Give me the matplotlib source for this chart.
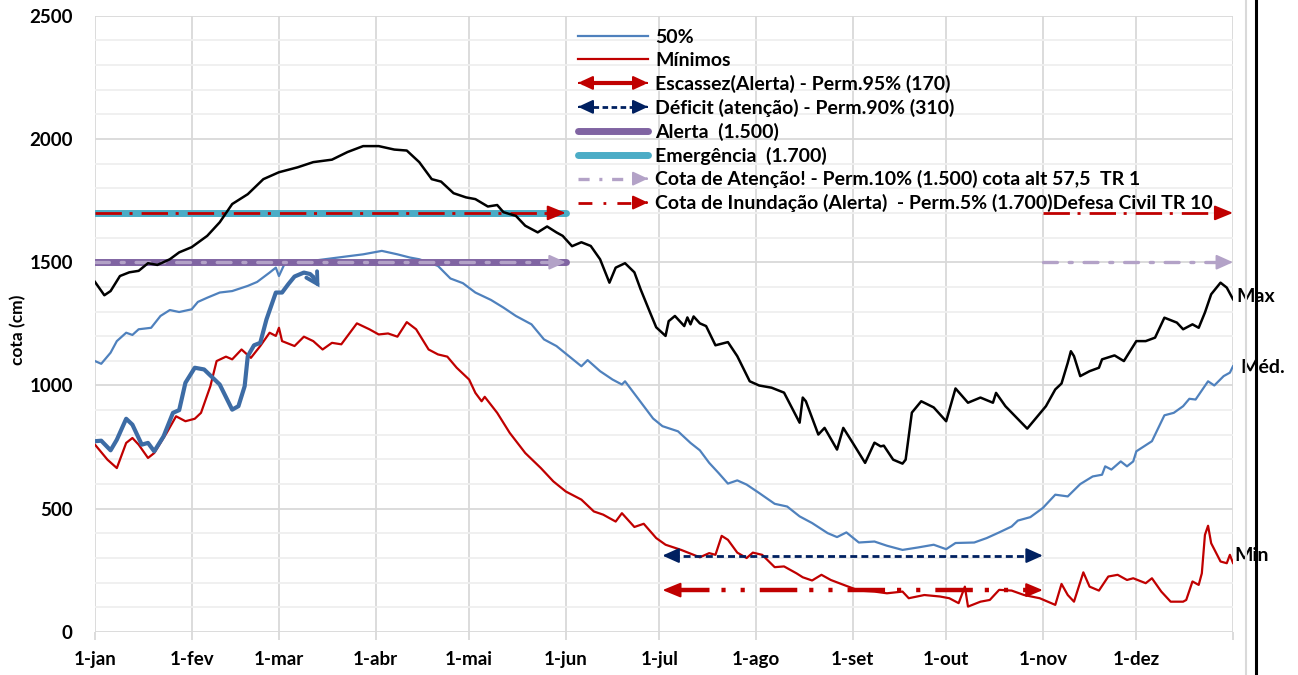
import matplotlib
matplotlib.use('Agg')
import matplotlib.pyplot as plt
from matplotlib.lines import Line2D
from matplotlib.patches import FancyArrowPatch
from matplotlib.legend_handler import HandlerBase
from matplotlib.ticker import MultipleLocator

plt.rcParams['font.family'] = ['Lato', 'DejaVu Sans']
plt.rcParams['font.weight'] = 'bold'
plt.rcParams['lines.scale_dashes'] = False

# ---------------- data ----------------
month_days = [0, 31, 59, 90, 120, 151, 181, 212, 243, 273, 304, 334]
month_labels = ['1-jan', '1-fev', '1-mar', '1-abr', '1-mai', '1-jun',
                '1-jul', '1-ago', '1-set', '1-out', '1-nov', '1-dez']
y_ticks = [0, 500, 1000, 1500, 2000, 2500]

max_day = [0, 3, 5, 8, 11, 14, 17, 20, 24, 27,
           31, 36, 40, 44, 49, 54, 59, 65, 70, 76,
           81, 86, 91, 96, 100, 104, 108, 111, 115, 119,
           122, 126, 129, 131, 135, 138, 142, 145, 148, 150,
           153, 156, 159, 162, 165, 167, 170, 173, 175, 178,
           180, 183, 184, 186, 189, 190, 191, 192, 194, 196,
           199, 203, 206, 210, 213, 217, 221, 226, 227, 228,
           232, 234, 238, 240, 243, 247, 250, 252, 253, 256,
           259, 260, 262, 265, 269, 273, 276, 280, 284, 288,
           289, 292, 299, 305, 308, 310, 312, 313, 314, 316,
           319, 322, 323, 327, 330, 334, 337, 340, 343, 347,
           349, 352, 354, 356, 358, 361, 363, 365]
max_cm = [1420, 1366, 1383, 1444, 1459, 1465, 1496, 1489, 1512, 1540,
          1561, 1607, 1662, 1736, 1776, 1837, 1865, 1885, 1906, 1916,
          1947, 1971, 1971, 1957, 1953, 1906, 1837, 1827, 1780, 1763,
          1756, 1726, 1732, 1703, 1688, 1648, 1621, 1645, 1621, 1607,
          1565, 1581, 1566, 1512, 1417, 1478, 1496, 1459, 1390, 1297,
          1236, 1201, 1261, 1282, 1241, 1276, 1248, 1280, 1252, 1241,
          1163, 1176, 1119, 1017, 1000, 991, 971, 849, 951, 936,
          801, 828, 740, 828, 768, 686, 768, 753, 756, 699,
          683, 699, 890, 936, 911, 855, 988, 930, 951, 930,
          970, 916, 825, 916, 984, 1008, 1092, 1139, 1119, 1038,
          1058, 1072, 1106, 1122, 1099, 1180, 1180, 1194, 1275, 1255,
          1228, 1248, 1234, 1296, 1370, 1417, 1397, 1350]

med_day = [0, 2, 5, 7, 10, 12, 14, 18, 21, 24,
           27, 31, 33, 36, 40, 44, 49, 52, 56, 58,
           59, 61, 70, 81, 86, 92, 97, 101, 104, 110,
           114, 118, 122, 127, 131, 135, 140, 144, 148, 152,
           156, 158, 162, 166, 169, 170, 174, 179, 182, 187,
           191, 194, 197, 200, 203, 206, 209, 213, 218, 222,
           226, 230, 235, 238, 241, 245, 250, 254, 259, 264,
           269, 273, 276, 282, 286, 290, 294, 296, 300, 304,
           308, 312, 316, 320, 323, 324, 326, 329, 331, 333,
           334, 339, 343, 346, 349, 351, 353, 357, 359, 362,
           364, 365]
med_cm = [1099, 1088, 1133, 1180, 1214, 1205, 1228, 1234, 1282, 1306,
          1298, 1309, 1339, 1356, 1377, 1383, 1404, 1420, 1458, 1478,
          1444, 1499, 1506, 1524, 1532, 1546, 1532, 1519, 1512, 1485,
          1434, 1415, 1377, 1347, 1316, 1282, 1248, 1187, 1160, 1119,
          1078, 1103, 1058, 1024, 1004, 1017, 950, 866, 835, 814,
          767, 737, 686, 645, 602, 615, 598, 564, 520, 509,
          469, 442, 401, 385, 404, 363, 367, 350, 333, 343,
          354, 336, 361, 363, 381, 404, 428, 452, 466, 503,
          557, 550, 600, 631, 638, 672, 659, 692, 672, 692,
          733, 774, 879, 889, 916, 946, 943, 1017, 1000, 1038,
          1052, 1078]

min_day = [0, 4, 7, 10, 12, 14, 17, 19, 23, 26,
           29, 32, 34, 37, 39, 42, 44, 47, 50, 53,
           56, 58, 59, 60, 64, 67, 70, 73, 76, 79,
           84, 88, 91, 94, 97, 100, 103, 107, 110, 113,
           116, 120, 122, 124, 125, 129, 133, 138, 143, 147,
           151, 156, 160, 163, 167, 169, 173, 176, 180, 183,
           188, 194, 197, 199, 201, 203, 206, 209, 211, 214,
           218, 221, 225, 227, 230, 233, 236, 241, 245, 250,
           254, 259, 261, 266, 271, 274, 277, 279, 280, 284,
           287, 290, 294, 298, 303, 308, 310, 312, 314, 317,
           319, 322, 325, 328, 331, 333, 337, 339, 342, 345,
           349, 350, 352, 354, 355, 356, 357, 358, 361, 363,
           364, 365]
min_cm = [760, 699, 665, 767, 787, 760, 706, 726, 808, 875,
          855, 865, 889, 997, 1099, 1117, 1106, 1146, 1112, 1160,
          1214, 1201, 1234, 1180, 1160, 1198, 1180, 1146, 1173, 1167,
          1252, 1228, 1207, 1211, 1198, 1257, 1228, 1146, 1126, 1117,
          1072, 1024, 970, 936, 954, 889, 808, 726, 665, 611,
          570, 537, 489, 476, 448, 482, 426, 439, 381, 354,
          333, 303, 320, 313, 390, 374, 322, 300, 322, 313,
          263, 266, 238, 222, 209, 232, 211, 187, 168, 164,
          157, 164, 137, 150, 144, 137, 117, 184, 103, 123,
          130, 171, 168, 150, 137, 110, 195, 150, 123, 242,
          184, 168, 225, 232, 211, 218, 198, 218, 164, 123,
          123, 130, 205, 191, 238, 394, 431, 360, 286, 279,
          313, 280]

cur_day = [0, 2, 5, 7, 10, 12, 15, 17, 19, 22, 25, 27, 29, 32, 35, 40,
           44, 46, 48, 49, 51, 53, 55, 58, 60, 62, 64, 67, 69, 70, 72]
cur_cm = [774, 776, 737, 780, 865, 841, 760, 767, 733, 794, 889, 900, 1011,
          1072, 1065, 1004, 902, 916, 997, 1119, 1163, 1173, 1268, 1377,
          1377, 1411, 1442, 1458, 1452, 1440, 1398]

alerta_cm = 1500
emergencia_cm = 1700
deficit_cm = 310
escassez_cm = 170
flood_span_1 = [0, 151]      # 1-jan .. 1-jun
flood_span_2 = [304, 365]    # 1-nov .. 31-dez
drought_span = [182, 304]    # 1-jul .. 1-nov

legend_labels = ['50%', 'Mínimos',
                 'Escassez(Alerta) - Perm.95% (170)',
                 'Déficit (atenção) - Perm.90% (310)',
                 'Alerta  (1.500)',
                 'Emergência  (1.700)',
                 'Cota de Atenção! - Perm.10% (1.500) cota alt 57,5  TR 1',
                 'Cota de Inundação (Alerta)  - Perm.5% (1.700)Defesa Civil TR 10']

# ---------------- styles ----------------
C_MED = '#4F81BD'
C_MIN = '#C00000'
C_MAX = '#000000'
C_CUR = '#3D6CA5'
C_ALERTA = '#8064A2'
C_EMERG = '#4BACC6'
C_ATENC = '#B3A2C7'
C_INUND = '#C00000'
C_DEFIC = '#002060'
C_ESCAS = '#C00000'
C_GRID = '#D9D9D9'
C_MINOR = '#EFEFEF'

D_INUND = (0, (19, 5.5, 2.2, 6.5))
D_ATENC = (0, (10, 8.5, 2.2, 8.5))
D_ESCAS = (0, (27, 8.6, 3, 10.8, 3, 10.8))
D_DEFIC = (0, (5, 3))

W, H = 1298, 675
fig = plt.figure(figsize=(W / 100, H / 100), dpi=100)
ax = fig.add_axes([95 / W, 1 - 632 / H, (1233 - 95) / W, (632 - 15.7) / H])
ax.set_xlim(0, 365)
ax.set_ylim(0, 2500)

for s in ax.spines.values():
    s.set_visible(False)

ax.set_yticks(y_ticks)
ax.yaxis.set_minor_locator(MultipleLocator(100))
ax.set_xticks(month_days + [365])
ax.set_xticklabels(month_labels + [''])
ax.grid(True, which='major', axis='both', color=C_GRID, lw=1.3, zorder=0)
ax.grid(True, which='minor', axis='y', color=C_MINOR, lw=1.3, zorder=0)
ax.set_axisbelow(True)
ax.tick_params(axis='y', which='both', length=0, pad=16, labelsize=13.5)
ax.tick_params(axis='x', length=6, width=1.3, color=C_GRID, pad=8,
               labelsize=13.5, labelcolor='black')


def arrow(x_from, x_to, y, color, lw, hl, hw, z, style='-|>'):
    ax.annotate('', xy=(x_to, y), xytext=(x_from, y),
                arrowprops=dict(arrowstyle=f'{style},head_length={hl},head_width={hw}',
                                color=color, lw=lw, shrinkA=0, shrinkB=0,
                                mutation_scale=1),
                zorder=z, annotation_clip=False)


# series
ax.plot(med_day, med_cm, color=C_MED, lw=1.6, zorder=2)
ax.plot(min_day, min_cm, color=C_MIN, lw=1.6, zorder=3)

# thresholds (first half of the year)
ax.plot(flood_span_1, [alerta_cm] * 2, color=C_ALERTA, lw=5, solid_capstyle='round', zorder=3)
ax.plot(flood_span_1, [emergencia_cm] * 2, color=C_EMERG, lw=5, solid_capstyle='round', zorder=3)
ax.plot([flood_span_1[0], flood_span_1[1] - 3], [alerta_cm] * 2, color=C_ATENC, lw=2.4,
        linestyle=D_ATENC, dash_capstyle='round', zorder=4)
arrow(flood_span_1[1] - 2, flood_span_1[1], alerta_cm, C_ATENC, 1.5, 10, 4.5, 4)
ax.plot([flood_span_1[0], flood_span_1[1] - 3], [emergencia_cm] * 2, color=C_INUND, lw=2.0,
        linestyle=D_INUND, zorder=4)
arrow(flood_span_1[1] - 2, flood_span_1[1], emergencia_cm, C_INUND, 1.5, 11, 4.5, 4)

# thresholds (end of the year)
ax.plot([flood_span_2[0], flood_span_2[1] - 3], [alerta_cm] * 2, color=C_ATENC, lw=2.4,
        linestyle=D_ATENC, dash_capstyle='round', zorder=4)
arrow(flood_span_2[1] - 2, flood_span_2[1], alerta_cm, C_ATENC, 1.5, 10, 4.5, 4)
ax.plot([flood_span_2[0], flood_span_2[1] - 3], [emergencia_cm] * 2, color=C_INUND, lw=2.0,
        linestyle=D_INUND, zorder=4)
arrow(flood_span_2[1] - 2, flood_span_2[1], emergencia_cm, C_INUND, 1.5, 11, 4.5, 4)

# drought thresholds
ax.plot([drought_span[0] + 3, drought_span[1] - 3], [deficit_cm] * 2, color=C_DEFIC, lw=2.0,
        linestyle=D_DEFIC, zorder=4)
arrow(drought_span[0] + 2, drought_span[0], deficit_cm, C_DEFIC, 1.5, 10, 4.5, 4)
arrow(drought_span[1] - 2, drought_span[1], deficit_cm, C_DEFIC, 1.5, 10, 4.5, 4)
ax.plot([drought_span[0] + 3, drought_span[1] - 3], [escassez_cm] * 2, color=C_ESCAS, lw=3.2,
        linestyle=D_ESCAS, zorder=4)
arrow(drought_span[0] + 2, drought_span[0], escassez_cm, C_ESCAS, 1.5, 11, 4.5, 4)
arrow(drought_span[1] - 2, drought_span[1], escassez_cm, C_ESCAS, 1.5, 10, 4.2, 4)

# max & current year on top
ax.plot(max_day, max_cm, color=C_MAX, lw=1.8, zorder=5)
ax.plot(cur_day[:-1], cur_cm[:-1], color=C_CUR, lw=3.0, zorder=5, solid_capstyle='round',
        solid_joinstyle='round')
ax.annotate('', xy=(cur_day[-1], cur_cm[-1]), xytext=(cur_day[-2], cur_cm[-2]),
            arrowprops=dict(arrowstyle='->,head_length=8,head_width=4.5', color=C_CUR,
                            lw=2.8, shrinkA=0, shrinkB=0, mutation_scale=1,
                            capstyle='round', joinstyle='miter'),
            zorder=5)

# end labels
ax.text(max_day[-1] + 1, max_cm[-1] + 10, 'Max', fontsize=14, ha='left', va='center',
        clip_on=False)
ax.text(med_day[-1] + 2.5, med_cm[-1] - 5, 'Méd.', fontsize=14, ha='left', va='center',
        clip_on=False)
ax.text(min_day[-1] + 0.3, min_cm[-1] + 32, 'Min', fontsize=14, ha='left', va='center',
        clip_on=False)

fig.text(18 / W, 1 - 330 / H, 'cota (cm)', rotation=90, ha='center', va='center',
         fontsize=12.5)


# ---------------- legend ----------------
class ArrowLineHandler(HandlerBase):
    def __init__(self, color, lw, ls, left=False, right=False, hl=9, hw=4.2,
                 head_lw=1.5):
        super().__init__()
        self.color, self.lw, self.ls = color, lw, ls
        self.left, self.right = left, right
        self.hl, self.hw, self.head_lw = hl, hw, head_lw

    def create_artists(self, legend, orig_handle, xdescent, ydescent, width,
                       height, fontsize, trans):
        y = (height - ydescent) / 2
        x0, x1 = -xdescent, width - xdescent
        lx0 = x0 + (self.hl * 0.5 if self.left else 0)
        lx1 = x1 - (self.hl * 0.5 if self.right else 0)
        arts = [Line2D([lx0, lx1], [y, y], color=self.color, lw=self.lw,
                       linestyle=self.ls, transform=trans)]
        for flag, tip, tail in ((self.left, x0, x0 + 1), (self.right, x1, x1 - 1)):
            if flag:
                arts.append(FancyArrowPatch(
                    (tail, y), (tip, y),
                    arrowstyle=f'-|>,head_length={self.hl},head_width={self.hw}',
                    color=self.color, lw=self.head_lw, shrinkA=0, shrinkB=0,
                    mutation_scale=1, transform=trans))
        return arts


h_med = Line2D([], [], color=C_MED, lw=1.6)
h_min = Line2D([], [], color=C_MIN, lw=1.6)
h_esc = Line2D([], [])
h_def = Line2D([], [])
h_ale = Line2D([], [], color=C_ALERTA, lw=5, solid_capstyle='round')
h_eme = Line2D([], [], color=C_EMERG, lw=5, solid_capstyle='round')
h_ate = Line2D([], [])
h_inu = Line2D([], [])
hmap = {
    h_esc: ArrowLineHandler(C_ESCAS, 3.0, '-', left=True, right=True),
    h_def: ArrowLineHandler(C_DEFIC, 2.0, (0, (4, 2.5)), left=True, right=True),
    h_ate: ArrowLineHandler(C_ATENC, 2.4, (0, (8, 7, 2.2, 7)), right=True),
    h_inu: ArrowLineHandler(C_INUND, 2.0, (0, (10, 8, 2, 8)), right=True),
}
leg = ax.legend([h_med, h_min, h_esc, h_def, h_ale, h_eme, h_ate, h_inu], legend_labels,
                handler_map=hmap, loc='upper left', bbox_to_anchor=(578 / W, 1 - 29 / H),
                bbox_transform=fig.transFigure, frameon=False,
                prop={'size': 14, 'weight': 'bold'},
                handlelength=3.6, handletextpad=0.36, labelspacing=0.3,
                borderpad=0, borderaxespad=0)
leg.set_zorder(10)

# frame lines at the right border of the picture
fig.add_artist(Line2D([1246 / W] * 2, [0, 1], transform=fig.transFigure, color=C_GRID, lw=1.5))
fig.add_artist(Line2D([1256 / W] * 2, [0, 1], transform=fig.transFigure, color='black', lw=2.2))

fig.savefig('out.png', dpi=100)
